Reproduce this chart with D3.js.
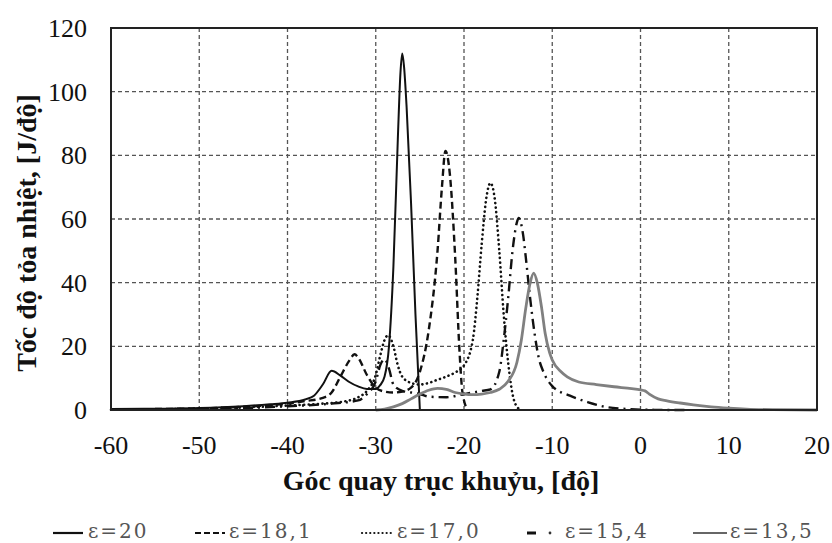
<!DOCTYPE html>
<html>
<head>
<meta charset="utf-8">
<title>Toc do toa nhiet</title>
<script src="https://d3js.org/d3.v7.min.js"></script>
<style>
  body { margin: 0; background: #fff; }
  .tick-label { font-family: "Liberation Serif", serif; font-size: 26px; fill: #111; }
  .axis-title { font-family: "Liberation Serif", serif; font-size: 28px; font-weight: bold; fill: #111; }
  .legend-text { font-family: "DejaVu Serif", serif; font-size: 20px; letter-spacing: 2px; fill: #555; }
</style>
</head>
<body>
<script>
// crank angle ticks and rate ticks
var xTicks = [-60, -50, -40, -30, -20, -10, 0, 10, 20];
var yTicks = [0, 20, 40, 60, 80, 100, 120];

// series: [angle, J/deg]
var e20 = [[-60,0.3],[-55,0.4],[-50,0.6],[-45,1.2],[-42,1.8],[-40,2.3],[-38,3.3],[-37,4.5],[-36,8],[-35,12.3],[-34,10.8],[-33,8.8],[-32,7.4],[-31,6.6],[-30,6.6],[-29.5,7.8],[-29,10.5],[-28.5,20],[-28,45],[-27.5,85],[-27.2,106],[-27,112],[-26.8,108],[-26.5,95],[-26,65],[-25.5,30],[-25,0]];
var e181 = [[-60,0.2],[-55,0.3],[-50,0.5],[-45,1],[-42,1.5],[-40,2],[-38,2.8],[-36,3.8],[-35,5.5],[-34,10.5],[-33,15.5],[-32.4,17.5],[-32,16.5],[-31,11],[-30,7],[-29,5.8],[-28,5.5],[-27,5.8],[-26,7],[-25,12],[-24,25],[-23,50],[-22.5,70],[-22.1,81.4],[-21.6,74],[-21,48],[-20.5,18],[-20.2,6],[-20,3],[-19.6,0]];
var e170 = [[-60,0.1],[-55,0.2],[-50,0.4],[-45,0.8],[-40,1.4],[-36,2],[-34,2.5],[-32,4],[-31,6],[-30,11],[-29.5,17],[-29,22],[-28.6,23.5],[-28,20],[-27.5,14],[-27,10.5],[-26,8.5],[-25,8],[-24,8.5],[-23,9.5],[-22,10.5],[-21,11.8],[-20,14],[-19,22],[-18.5,35],[-18,52],[-17.5,66],[-17,71.3],[-16.5,66],[-16,50],[-15.5,30],[-15,15],[-14.5,5],[-14,1],[-13.5,0]];
var e154 = [[-60,0.1],[-55,0.2],[-50,0.3],[-45,0.6],[-40,1.2],[-35,2],[-32,3],[-31,5],[-30,9],[-29.5,14],[-29,16],[-28.5,13],[-28,8],[-27,6],[-26,5.5],[-25,5],[-24,4.2],[-22,4],[-20,5],[-18,6],[-17,6.5],[-16,12],[-15.5,22],[-15,35],[-14.5,50],[-14,59],[-13.8,60.3],[-13.3,55],[-13,48],[-12.5,35],[-12,24],[-11.5,16],[-11,12],[-10,7.5],[-8,4.5],[-6,2.5],[-4,1],[-2,0.4],[0,0.1],[5,0]];
var e135 = [[-30,0],[-29,0.3],[-28,1],[-27,2],[-26,3.5],[-25,5],[-24,6.2],[-23,6.8],[-22,6.5],[-21,5.5],[-20,5],[-19,4.8],[-18,5],[-17,5.5],[-16,6.5],[-15,9],[-14,15],[-13.5,22],[-13,32],[-12.5,40],[-12.1,43],[-11.7,40],[-11.2,32],[-10.8,24],[-10.3,18],[-10,15.7],[-9,12],[-8.3,10.4],[-7,8.8],[-5,8],[-3,7.3],[-1,6.7],[0,6.3],[0.5,6],[1,5],[2,3.5],[3,2.9],[4.5,2.2],[6,1.6],[8,1],[10,0.6],[12,0.3],[15,0.1],[20,0]];

var seriesNames = ["\u03b5=20", "\u03b5=18,1", "\u03b5=17,0", "\u03b5=15,4", "\u03b5=13,5"];
var seriesData = [e20, e181, e170, e154, e135];
var seriesStyle = [
  {stroke: "#111", width: 2, dash: null, cap: "butt"},
  {stroke: "#111", width: 2.4, dash: "7,4", cap: "butt"},
  {stroke: "#111", width: 2.6, dash: "0.1,4.5", cap: "round"},
  {stroke: "#111", width: 2.4, dash: "10,5,2,5", cap: "butt"},
  {stroke: "#808080", width: 2.8, dash: null, cap: "butt"}
];

var margin = {top: 28, right: 15, bottom: 133, left: 111},
    width = 832 - margin.left - margin.right,
    height = 543 - margin.top - margin.bottom;

var svg = d3.select("body").append("svg")
    .attr("width", 832)
    .attr("height", 543);

var g = svg.append("g")
    .attr("transform", "translate(" + margin.left + "," + margin.top + ")");

var x = d3.scaleLinear().domain([-60, 20]).range([0, width]);
var y = d3.scaleLinear().domain([0, 120]).range([height, 0]);

// dashed grid
g.append("g")
  .selectAll("line.vx")
  .data(xTicks.slice(1, -1))
  .enter().append("line")
    .attr("x1", function(d) { return x(d); })
    .attr("x2", function(d) { return x(d); })
    .attr("y1", 0).attr("y2", height)
    .attr("stroke", "#555").attr("stroke-width", 1.3)
    .attr("stroke-dasharray", "4,3");

g.append("g")
  .selectAll("line.hy")
  .data(yTicks.slice(1, -1))
  .enter().append("line")
    .attr("x1", 0).attr("x2", width)
    .attr("y1", function(d) { return y(d); })
    .attr("y2", function(d) { return y(d); })
    .attr("stroke", "#555").attr("stroke-width", 1.3)
    .attr("stroke-dasharray", "4,3");

// curves
var line = d3.line()
    .x(function(d) { return x(d[0]); })
    .y(function(d) { return y(d[1]); })
    .curve(d3.curveMonotoneX);

seriesData.forEach(function(s, i) {
  var st = seriesStyle[i];
  g.append("path")
    .datum(s)
    .attr("fill", "none")
    .attr("stroke", st.stroke)
    .attr("stroke-width", st.width)
    .attr("stroke-dasharray", st.dash)
    .attr("stroke-linecap", st.cap)
    .attr("stroke-linejoin", "round")
    .attr("d", line);
});

// frame
g.append("rect")
  .attr("width", width).attr("height", height)
  .attr("fill", "none").attr("stroke", "#222").attr("stroke-width", 2);

// tick labels
g.selectAll("text.xt")
  .data(xTicks)
  .enter().append("text")
    .attr("class", "tick-label")
    .attr("x", function(d) { return x(d); })
    .attr("y", height + 44)
    .attr("text-anchor", "middle")
    .text(function(d) { return d; });

g.selectAll("text.yt")
  .data(yTicks)
  .enter().append("text")
    .attr("class", "tick-label")
    .attr("x", -24)
    .attr("y", function(d) { return y(d); })
    .attr("dy", "0.35em")
    .attr("text-anchor", "end")
    .text(function(d) { return d; });

// axis titles
g.append("text")
  .attr("class", "axis-title")
  .attr("x", 441 - margin.left)
  .attr("y", height + 80)
  .attr("text-anchor", "middle")
  .text("Góc quay trục khuỷu, [độ]");

svg.append("text")
  .attr("class", "axis-title")
  .attr("transform", "translate(36,233) rotate(-90)")
  .attr("text-anchor", "middle")
  .text("Tốc độ tỏa nhiệt, [J/độ]");

// legend
var legendX = [53, 195, 362, 527, 693];
var legendLen = [30, 30, 30, 9, 34];
var legendTextX = [88, 229, 397, 565, 730];
var legend = svg.append("g").attr("transform", "translate(0,533)");

seriesNames.forEach(function(name, i) {
  var st = seriesStyle[i];
  legend.append("line")
    .attr("x1", legendX[i]).attr("x2", legendX[i] + legendLen[i])
    .attr("y1", 0).attr("y2", 0)
    .attr("stroke", i == 4 ? "#666" : st.stroke)
    .attr("stroke-width", i == 3 ? 3 : 2.2)
    .attr("stroke-linecap", st.cap)
    .attr("stroke-dasharray", i == 1 ? "6,3" : (i == 2 ? "0.1,4" : null));
  if (i == 3) {
    legend.append("circle")
      .attr("cx", 550).attr("cy", 0).attr("r", 1.4)
      .attr("fill", "#333");
  }
  legend.append("text")
    .attr("class", "legend-text")
    .attr("x", legendTextX[i])
    .attr("y", 5)
    .text(name);
});
</script>
</body>
</html>
